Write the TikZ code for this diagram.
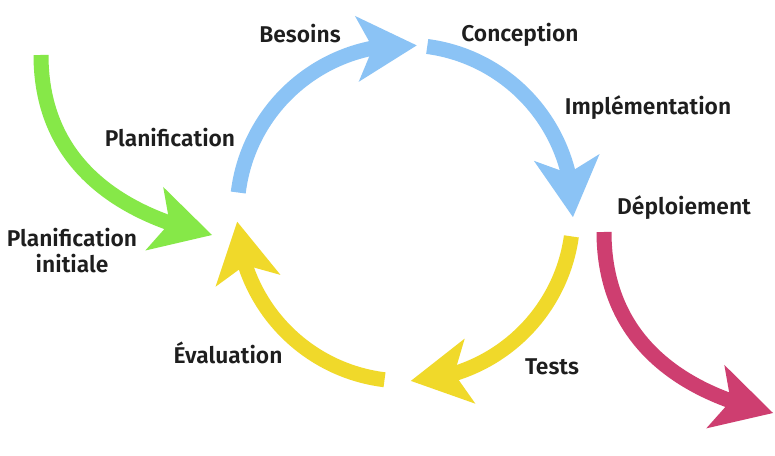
\documentclass[tikz,border=0pt]{standalone}
\usepackage{fontspec}
\newfontfamily\lblfont{Fira Sans SemiBold}
\usetikzlibrary{arrows.meta,bending,calc}
\definecolor{blueA}{RGB}{139,195,245}
\definecolor{greenA}{RGB}{134,232,72}
\definecolor{yellowA}{RGB}{240,217,42}
\definecolor{pinkA}{RGB}{206,62,112}
\definecolor{txt}{RGB}{30,30,30}
\begin{document}
\begin{tikzpicture}[x=1pt,y=1pt,
  lbl/.style={font=\lblfont\fontsize{22.8}{26}\selectfont, text=txt, inner sep=0pt, anchor=base, align=center},
  bigarrow/.style={line width=15pt, -{Stealth[length=60pt,width=66pt,inset=16pt,line width=0pt,flex]}},
]
\useasboundingbox[fill=white] (0,0) rectangle (775,455);
\coordinate (C) at (405,242);
% cycle start points
\coordinate (b1s) at ($(C)+(173:168pt)$);
\coordinate (b2s) at ($(C)+(82.4:168pt)$);
\coordinate (y1s) at ($(C)+(-8:168pt)$);
\coordinate (y2s) at ($(C)+(-97:168pt)$);
% cycle arcs
\draw[bigarrow, blueA] (b1s) arc[start angle=173, end angle=86, radius=168pt];
\draw[bigarrow, blueA] (b2s) arc[start angle=82.4, end angle=-1.4, radius=168pt];
\draw[bigarrow, yellowA] (y1s) arc[start angle=-8, end angle=-88, radius=168pt];
\draw[bigarrow, yellowA] (y2s) arc[start angle=-97, end angle=-177, radius=168pt];
% entry and exit arrows
\coordinate (gs) at (41,400);
\coordinate (ge) at (212,220);
\coordinate (ps) at (604,223);
\coordinate (pe) at (773,42);
\draw[bigarrow, greenA] (gs) .. controls (41,292) and (120,240) .. (ge);
\draw[bigarrow, pinkA] (ps) .. controls (604,115) and (681,62) .. (pe);
% labels
\node[lbl] (besoins) at (300,412.5) {Besoins};
\node[lbl] (plan) at (170,308) {Planification};
\node[lbl] (concep) at (520,413) {Conception};
\node[lbl] (impl) at (648,340) {Implémentation};
\node[lbl] (deploi) at (684,240) {Déploiement};
\node[lbl, anchor=center] (planinit) at (72,204) {Planification\\initiale};
\node[lbl] (eval) at (228,92) {Évaluation};
\node[lbl] (tests) at (552,81) {Tests};
\end{tikzpicture}
\end{document}
